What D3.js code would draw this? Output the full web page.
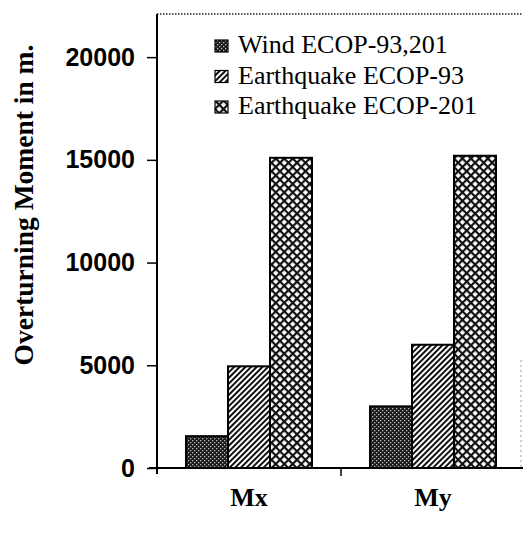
<!DOCTYPE html>
<html><head><meta charset="utf-8">
<script src="https://cdn.jsdelivr.net/npm/d3@7"></script>
<style>body{margin:0;background:#fff}svg{display:block}</style>
</head><body>
<script>
const categories = ["Mx", "My"];
const seriesNames = ["Wind ECOP-93,201", "Earthquake ECOP-93", "Earthquake ECOP-201"];
const windValues = [1550, 3000];
const eq93Values = [4950, 6000];
const eq201Values = [15100, 15200];
const yTickValues = [0, 5000, 10000, 15000, 20000];
const yLabel = "Overturning Moment in m.";

const W = 523, H = 539;
const svg = d3.select("body").append("svg").attr("width", W).attr("height", H);
const defs = svg.append("defs");

// patterns
const p1 = defs.append("pattern").attr("id","pWind").attr("patternUnits","userSpaceOnUse").attr("width",4).attr("height",4);
p1.append("rect").attr("width",4).attr("height",4).attr("fill","#1a1a1a");
p1.append("rect").attr("x",0).attr("y",0).attr("width",1.3).attr("height",1.3).attr("fill","#bbb");
p1.append("rect").attr("x",2).attr("y",2).attr("width",1.3).attr("height",1.3).attr("fill","#bbb");

const p2 = defs.append("pattern").attr("id","pEq93").attr("patternUnits","userSpaceOnUse").attr("width",4).attr("height",4)
  .attr("patternTransform","rotate(45)");
p2.append("rect").attr("width",4).attr("height",4).attr("fill","#fff");
p2.append("rect").attr("x",0).attr("y",0).attr("width",2).attr("height",4).attr("fill","#111");

const p3 = defs.append("pattern").attr("id","pEq201").attr("patternUnits","userSpaceOnUse").attr("width",6).attr("height",6)
  .attr("patternTransform","rotate(45)");
p3.append("rect").attr("width",6).attr("height",6).attr("fill","#111");
p3.append("rect").attr("x",2.2).attr("y",2.2).attr("width",3.8).attr("height",3.8).attr("fill","#fff");

const fills = ["url(#pWind)", "url(#pEq93)", "url(#pEq201)"];
const seriesValues = [windValues, eq93Values, eq201Values];

const mLeft = 157, mRight = 525, mTop = 14, mBottom = 468;
const y = d3.scaleLinear().domain([0, 22100]).range([mBottom, mTop]);
const x0 = d3.scaleBand().domain(categories).range([mLeft, mRight]);
const x1 = d3.scaleBand().domain(seriesNames).range([29, 155]);

// top dotted frame
svg.append("line").attr("x1", mLeft).attr("x2", W).attr("y1", mTop).attr("y2", mTop)
  .attr("stroke","#222").attr("stroke-width",1.5).attr("stroke-dasharray","1.5,1.5");
// faint right edge
svg.append("line").attr("x1", 521).attr("x2", 521).attr("y1", 360).attr("y2", mBottom)
  .attr("stroke","#999").attr("stroke-width",1).attr("stroke-dasharray","2,3");

// bars
const rows = [];
categories.forEach((c, i) => seriesNames.forEach((s, j) => rows.push({c, s, j, v: seriesValues[j][i]})));
svg.append("g").selectAll("rect").data(rows).join("rect")
  .attr("x", d => x0(d.c) + x1(d.s))
  .attr("y", d => y(d.v))
  .attr("width", x1.bandwidth())
  .attr("height", d => mBottom - y(d.v))
  .attr("fill", d => fills[d.j])
  .attr("stroke","#000").attr("stroke-width",2);

// y axis
const yAxis = d3.axisLeft(y).tickValues(yTickValues).tickSize(10).tickPadding(12).tickFormat(d3.format("d"));
const gy = svg.append("g").attr("transform", `translate(${mLeft},0)`).call(yAxis);
gy.select(".domain").remove();
gy.selectAll(".tick line").attr("stroke","#000").attr("stroke-width",1.5);
gy.selectAll(".tick text").attr("font-family","'Liberation Sans', Arial, sans-serif").attr("font-weight","bold")
  .attr("font-size",25).attr("fill","#000");
svg.append("line").attr("x1", mLeft).attr("x2", mLeft).attr("y1", mTop).attr("y2", mBottom + 6)
  .attr("stroke","#000").attr("stroke-width",2);

// x axis
const gx = svg.append("g").attr("transform", `translate(0,${mBottom})`)
  .call(d3.axisBottom(x0).tickSize(0).tickPadding(20));
gx.select(".domain").remove();
gx.selectAll(".tick text").attr("font-family","'Liberation Serif', 'Times New Roman', serif").attr("font-weight","bold")
  .attr("font-size",26).attr("fill","#000");
svg.append("line").attr("x1", mLeft - 8).attr("x2", W).attr("y1", mBottom).attr("y2", mBottom)
  .attr("stroke","#000").attr("stroke-width",2);
svg.append("line").attr("x1", x0("My")).attr("x2", x0("My")).attr("y1", mBottom).attr("y2", mBottom + 8)
  .attr("stroke","#000").attr("stroke-width",1.5);

// y label
svg.append("text").attr("transform", `translate(33,205) rotate(-90)`)
  .attr("text-anchor","middle").attr("font-family","'Liberation Serif', 'Times New Roman', serif")
  .attr("font-weight","bold").attr("font-size",27.5).attr("fill","#000").text(yLabel);

// legend
const lg = svg.append("g").attr("transform","translate(215,38)");
seriesNames.forEach((s, j) => {
  const g = lg.append("g").attr("transform", `translate(0,${j * 30.5})`);
  g.append("rect").attr("x",0).attr("y",2).attr("width",13).attr("height",12)
    .attr("fill", fills[j]).attr("stroke","#000").attr("stroke-width",1.2);
  g.append("text").attr("x",23).attr("y",15).attr("font-family","'Liberation Serif', 'Times New Roman', serif")
    .attr("font-size",26).attr("fill","#000").text(s);
});
</script>
</body></html>
